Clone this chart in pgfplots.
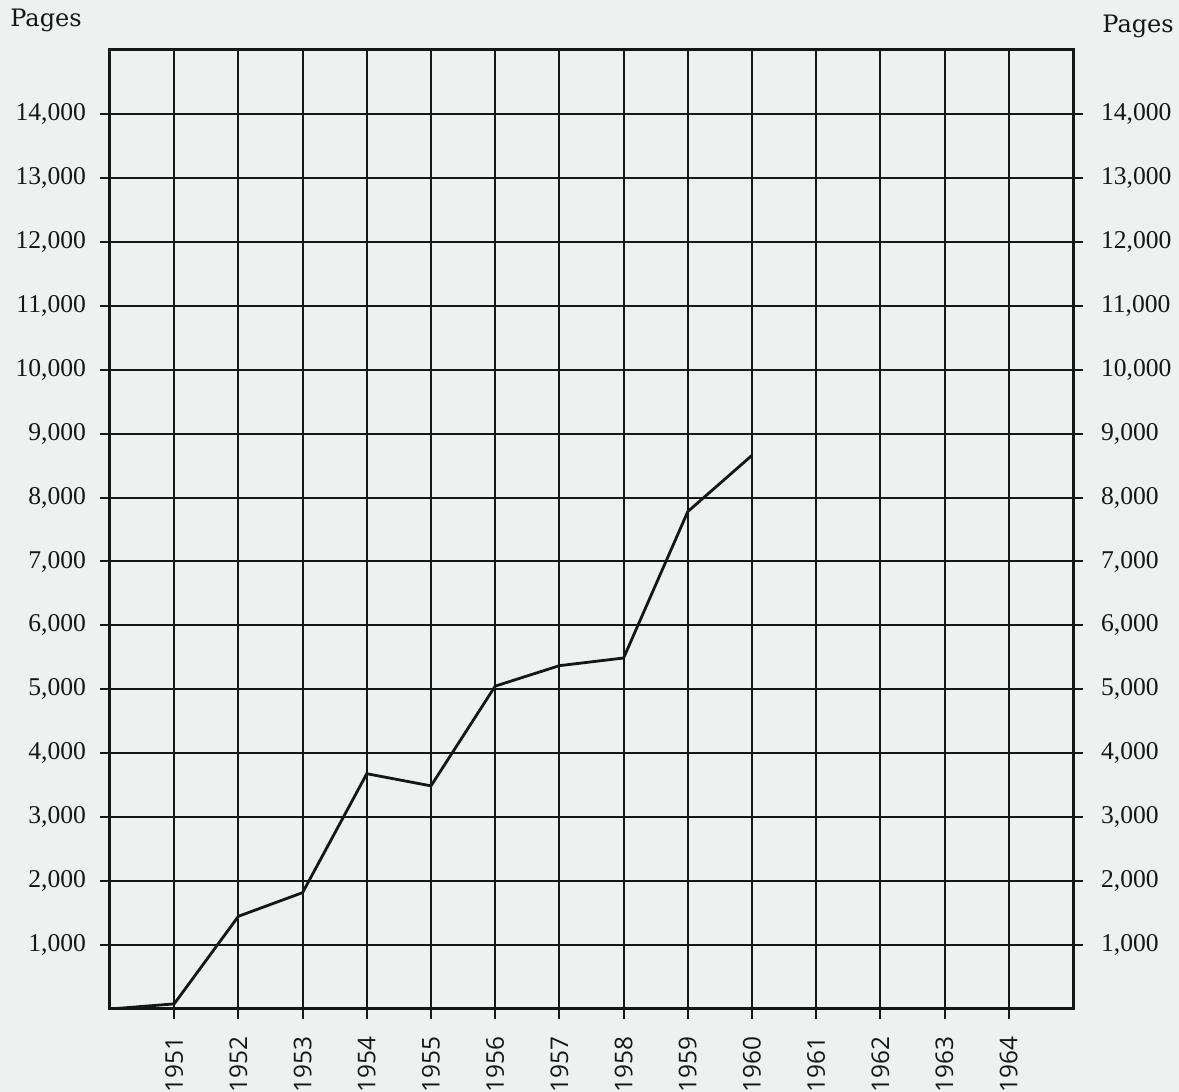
\documentclass[border=0pt]{standalone}
\usepackage{pgfplots}
\pgfplotsset{compat=1.18}
\usepackage{fontspec}
\setmainfont{Liberation Serif}
\newfontfamily\yearfont{Open Sans}
\newfontfamily\pagesfont{DejaVu Serif}
\definecolor{paper}{RGB}{239,241,241}
\definecolor{ink}{RGB}{22,22,22}
\pgfplotsset{
  pagegeom/.style={
    at={(55pt,41.5pt)}, anchor=south west,
    width=481.5pt, height=479.5pt, scale only axis,
    xmin=1950, xmax=1965, ymin=0, ymax=15000,
    xtick={1951,1952,...,1964}, ytick={1000,2000,...,14000},
    tick align=outside, major tick length=5pt,
    scaled y ticks=false,
    /pgf/number format/assume math mode=true,
    yticklabel style={font=\fontsize{12.8}{14}\selectfont, text=ink},
  }
}
\begin{document}
\begin{tikzpicture}
\fill[paper] (0,0) rectangle (589.5pt,546pt);
\begin{axis}[
  pagegeom,
  grid=major, major grid style={ink, line width=1pt},
  axis line style={ink, line width=1.5pt},
  xtick pos=left, ytick pos=both,
  every tick/.style={ink, line width=1pt},
  xticklabel style={font=\yearfont\fontsize{12.2}{14}\selectfont, text=ink, rotate=90, anchor=east, xshift=1.5pt, /pgf/number format/1000 sep={}},
  xticklabel shift=7pt,
  yticklabel pos=left,
  yticklabel style={xshift=-3.5pt},
]
\addplot[ink, line width=1.4pt] coordinates {
(1950,0) (1951,80) (1952,1450) (1953,1820) (1954,3680) (1955,3490)
(1956,5050) (1957,5370) (1958,5490) (1959,7780) (1960,8660)
};
\end{axis}
\begin{axis}[
  pagegeom,
  axis line style={draw=none},
  every tick/.style={draw=none},
  xticklabels={},
  yticklabel pos=right,
  yticklabel style={xshift=5.5pt},
]
\end{axis}
\node[font=\pagesfont\fontsize{12}{14}\selectfont, text=ink, anchor=base west, inner sep=0pt] at (5pt,532.5pt) {Pages};
\node[font=\pagesfont\fontsize{12}{14}\selectfont, text=ink, anchor=base west, inner sep=0pt] at (551pt,529.5pt) {Pages};
\pgfresetboundingbox
\useasboundingbox (0,0) rectangle (589.5pt,546pt);
\end{tikzpicture}
\end{document}
